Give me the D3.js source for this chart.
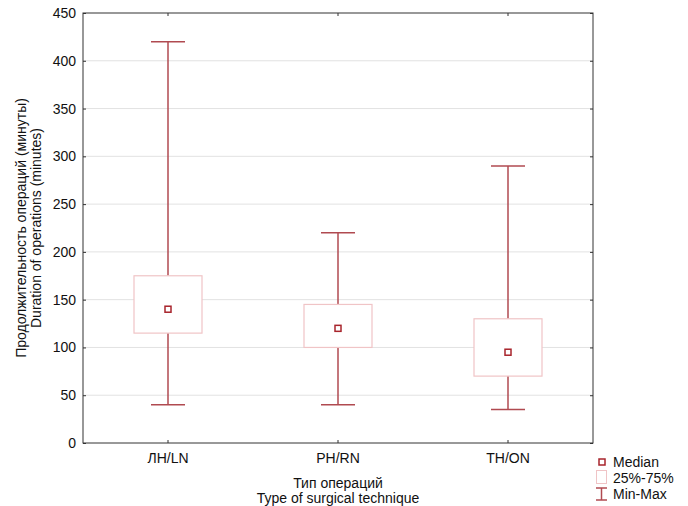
<!DOCTYPE html>
<html><head><meta charset="utf-8">
<script src="https://cdn.jsdelivr.net/npm/d3@7"></script>
<style>body{margin:0;background:#fff}svg{display:block}text{font-family:"Liberation Sans",Arial,sans-serif;fill:#111}</style>
</head><body><svg id="c" width="688" height="506"></svg>
<script>
const categories = ["ЛН/LN", "PH/RN", "TH/ON"];
const minVals = [40, 40, 35];
const q1Vals = [115, 100, 70];
const medianVals = [140, 120, 95];
const q3Vals = [175, 145, 130];
const maxVals = [420, 220, 290];
const yTicks = [0, 50, 100, 150, 200, 250, 300, 350, 400, 450];

const svg = d3.select("#c");
const L = 83, R = 593, T = 13, B = 443;
const x = d3.scaleBand().domain(categories).range([L, R]);
const y = d3.scaleLinear().domain([0, 450]).range([B, T]);
const whisk = "#b04a50", boxC = "#f0c4c6", medC = "#a8242c";
const FS = "14px";

// grid
svg.append("g").selectAll("line").data(yTicks.slice(1, -1)).join("line")
  .attr("x1", L).attr("x2", R).attr("y1", d => y(d)).attr("y2", d => y(d))
  .attr("stroke", "#e2e2e2").attr("stroke-width", 1);

// axes
const yAx = svg.append("g").attr("transform", `translate(${L},0)`)
  .call(d3.axisLeft(y).tickValues(yTicks).tickSize(-3).tickPadding(7));
const yAxR = svg.append("g").attr("transform", `translate(${R},0)`)
  .call(d3.axisRight(y).tickValues(yTicks).tickSize(-3).tickFormat(""));
const xAx = svg.append("g").attr("transform", `translate(0,${B})`)
  .call(d3.axisBottom(x).tickSize(-3).tickPadding(10));
const xAxT = svg.append("g").attr("transform", `translate(0,${T})`)
  .call(d3.axisTop(x).tickSize(-3).tickFormat(""));
[yAx, yAxR, xAx, xAxT].forEach(g => {
  g.select(".domain").remove();
  g.selectAll("line").attr("stroke", "#333");
  g.selectAll("text").style("font-size", FS).attr("fill", "#111");
});
svg.append("rect").attr("x", L).attr("y", T).attr("width", R - L).attr("height", B - T)
  .attr("fill", "none").attr("stroke", "#333").attr("stroke-width", 1);

// boxes
const data = categories.map((c, i) => ({c, mn: minVals[i], q1: q1Vals[i], md: medianVals[i], q3: q3Vals[i], mx: maxVals[i]}));
const g = svg.append("g");
const bw = 68, cw = 34;
data.forEach(d => {
  const cx = x(d.c) + x.bandwidth() / 2;
  g.append("line").attr("x1", cx).attr("x2", cx).attr("y1", y(d.mx)).attr("y2", y(d.q3)).attr("stroke", whisk).attr("stroke-width", 1.5);
  g.append("line").attr("x1", cx).attr("x2", cx).attr("y1", y(d.q1)).attr("y2", y(d.mn)).attr("stroke", whisk).attr("stroke-width", 1.5);
  g.append("line").attr("x1", cx - cw / 2).attr("x2", cx + cw / 2).attr("y1", y(d.mx)).attr("y2", y(d.mx)).attr("stroke", whisk).attr("stroke-width", 1.5);
  g.append("line").attr("x1", cx - cw / 2).attr("x2", cx + cw / 2).attr("y1", y(d.mn)).attr("y2", y(d.mn)).attr("stroke", whisk).attr("stroke-width", 1.5);
  g.append("rect").attr("x", cx - bw / 2).attr("y", y(d.q3)).attr("width", bw).attr("height", y(d.q1) - y(d.q3))
    .attr("fill", "#fff").attr("stroke", boxC).attr("stroke-width", 1.2);
  g.append("rect").attr("x", cx - 3).attr("y", y(d.md) - 3).attr("width", 6).attr("height", 6)
    .attr("fill", "#fff").attr("stroke", medC).attr("stroke-width", 1.5);
});

// axis titles
const yt = svg.append("text").attr("transform", `translate(26,${(T + B) / 2}) rotate(-90)`)
  .attr("text-anchor", "middle").style("font-size", FS);
yt.append("tspan").attr("x", 0).attr("dy", 0).text("Продолжительность операций (минуты)");
yt.append("tspan").attr("x", 0).attr("dy", 15).text("Duration of operations (minutes)");
const xt = svg.append("text").attr("text-anchor", "middle").style("font-size", FS);
xt.append("tspan").attr("x", (L + R) / 2).attr("y", 488).text("Тип операций");
xt.append("tspan").attr("x", (L + R) / 2).attr("y", 503).text("Type of surgical technique");

// legend
const lg = svg.append("g");
lg.append("rect").attr("x", 599).attr("y", 459).attr("width", 6).attr("height", 6).attr("fill", "#fff").attr("stroke", medC).attr("stroke-width", 1.5);
lg.append("text").attr("x", 613).attr("y", 467).style("font-size", FS).text("Median");
lg.append("rect").attr("x", 596.5).attr("y", 470.5).attr("width", 10).attr("height", 13).attr("fill", "#fff").attr("stroke", boxC).attr("stroke-width", 1);
lg.append("text").attr("x", 613).attr("y", 483).style("font-size", FS).text("25%-75%");
lg.append("line").attr("x1", 601.5).attr("x2", 601.5).attr("y1", 488).attr("y2", 500).attr("stroke", whisk).attr("stroke-width", 1.5);
lg.append("line").attr("x1", 596).attr("x2", 607).attr("y1", 488).attr("y2", 488).attr("stroke", whisk).attr("stroke-width", 1.5);
lg.append("line").attr("x1", 596).attr("x2", 607).attr("y1", 500).attr("y2", 500).attr("stroke", whisk).attr("stroke-width", 1.5);
lg.append("text").attr("x", 613).attr("y", 499).style("font-size", FS).text("Min-Max");
</script></body></html>
